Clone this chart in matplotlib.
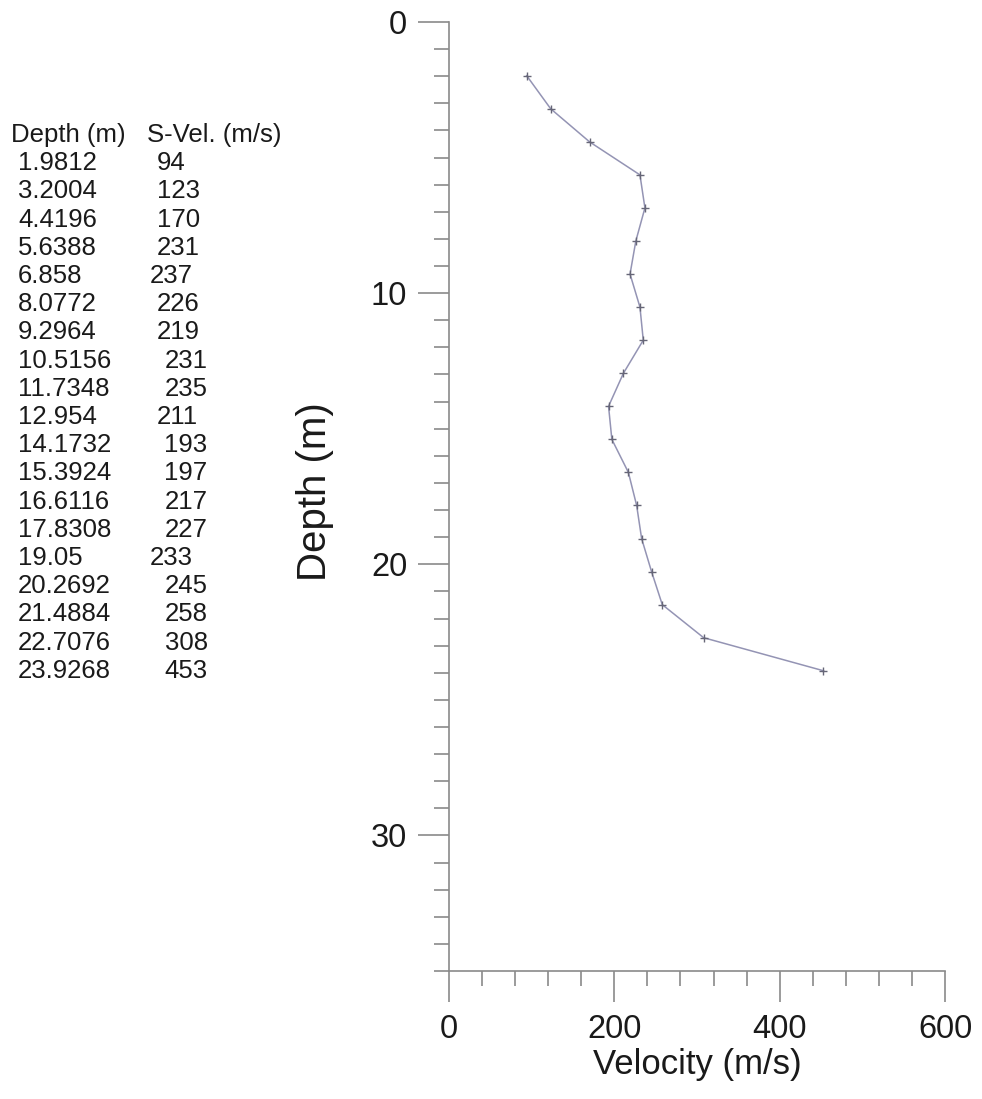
import numpy as np
import matplotlib.pyplot as plt
from matplotlib.ticker import MultipleLocator

plt.rcParams['font.family'] = ['Liberation Sans', 'DejaVu Sans']

# shear-wave velocity profile
depth = [1.9812, 3.2004, 4.4196, 5.6388, 6.858, 8.0772, 9.2964, 10.5156, 11.7348,
         12.954, 14.1732, 15.3924, 16.6116, 17.8308, 19.05, 20.2692, 21.4884,
         22.7076, 23.9268]
s_vel = [94, 123, 170, 231, 237, 226, 219, 231, 235, 211, 193, 197, 217, 227,
         233, 245, 258, 308, 453]

depth_labels = ['1.9812', '3.2004', '4.4196', '5.6388', '6.858', '8.0772', '9.2964',
                '10.5156', '11.7348', '12.954', '14.1732', '15.3924', '16.6116',
                '17.8308', '19.05', '20.2692', '21.4884', '22.7076', '23.9268']

W, H = 982, 1099
axis_grey = '#8a8a8a'
ink = '#1a1a1a'

fig = plt.figure(figsize=(W / 100, H / 100), dpi=100)
ax = fig.add_axes([449 / W, 1 - 971 / H, (945 - 449) / W, (971 - 22) / H])

ax.plot(s_vel, depth, color='#9494b4', linewidth=1.1, marker='+',
        markersize=6, markeredgecolor='#666677', markeredgewidth=1.0)

ax.set_xlim(0, 600)
ax.set_ylim(35, 0)
ax.xaxis.set_major_locator(MultipleLocator(200))
ax.xaxis.set_minor_locator(MultipleLocator(40))
ax.yaxis.set_major_locator(MultipleLocator(10))
ax.yaxis.set_minor_locator(MultipleLocator(1))

for side in ['top', 'right']:
    ax.spines[side].set_visible(False)
for side in ['left', 'bottom']:
    ax.spines[side].set_color(axis_grey)
    ax.spines[side].set_linewidth(1.2)

ax.tick_params(which='both', direction='out', color=axis_grey, width=1.2,
               labelsize=23.5, labelcolor=ink)
ax.tick_params(which='major', length=22)
ax.tick_params(which='minor', length=11)
ax.tick_params(axis='x', which='major', pad=9)
ax.tick_params(axis='y', which='major', pad=8)

ax.set_xlabel('Velocity (m/s)', fontsize=25, color=ink)
ax.xaxis.set_label_coords(0.5, -0.081)
ax.set_ylabel('Depth (m)', fontsize=29, color=ink)
ax.yaxis.set_label_coords(-0.232, 0.505)

# data listing on the left
row_h = 28.2
top = 135
fig.text(11 / W, 1 - top / H, 'Depth (m)   S-Vel. (m/s)', fontsize=18.5,
         va='center', ha='left', color=ink)
for i, (d, v) in enumerate(zip(depth_labels, s_vel)):
    y = 1 - (top + (i + 1) * row_h) / H
    fig.text(18 / W, y, d, fontsize=18.5, va='center', ha='left', color=ink)
    x_v = 112 + 7.5 * len(d)
    fig.text(x_v / W, y, str(v), fontsize=18.5, va='center', ha='left', color=ink)

fig.savefig('out.png', dpi=100, facecolor='white')
